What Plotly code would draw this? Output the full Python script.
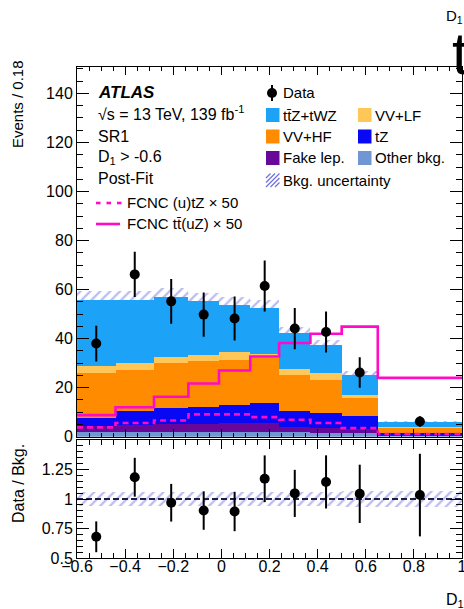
import numpy as np
import plotly.graph_objects as go

# ---------------- data ----------------
edges = [-0.6, -0.44, -0.28, -0.137, -0.01, 0.12, 0.24, 0.37, 0.50, 0.65, 1.0]

other_bkg = [1.8, 1.8, 1.8, 1.8, 1.8, 1.8, 1.8, 1.7, 1.6, 0.4]
fake_lep = [2.7, 2.8, 3.2, 3.4, 3.6, 3.8, 2.2, 1.8, 1.4, 0.4]
tz = [3.3, 5.7, 6.6, 6.9, 7.6, 8.1, 6.3, 6.1, 5.3, 0.8]
vv_hf = [18.2, 16.8, 18.3, 18.7, 18.2, 18.2, 14.8, 13.7, 7.4, 2.0]
vv_lf = [2.8, 2.8, 2.7, 2.7, 3.4, 2.0, 2.7, 2.8, 1.4, 0.5]
ttz_twz = [27.1, 26.0, 24.4, 21.7, 19.3, 18.6, 14.3, 11.2, 8.0, 1.9]
bkg_unc = [3.5, 3.5, 3.5, 3.3, 3.2, 3.1, 2.5, 2.3, 1.7, 0.4]

data = [38.0, 66.2, 55.2, 49.8, 48.2, 61.5, 44.1, 42.7, 26.2, 6.2]
data_err = [7.3, 9.2, 9.1, 9.0, 9.0, 10.4, 8.4, 8.4, 6.2, 2.1]

fcnc_tz = [3.8, 5.6, 6.6, 9.1, 9.1, 8.0, 6.9, 5.6, 3.5, 1.1]
fcnc_tt = [8.8, 12.0, 16.3, 21.7, 27.0, 32.7, 38.2, 42.0, 44.9, 24.0]

x_ticks = [-0.6, -0.4, -0.2, 0.0, 0.2, 0.4, 0.6, 0.8, 1.0]
x_ticktext = ["−0.6", "−0.4", "−0.2", "0", "0.2", "0.4", "0.6", "0.8", "1"]
ratio_ticks = [0.5, 0.75, 1.0, 1.25]
ratio_ticktext = ["0.5", "0.75", "1", "1.25"]

stack_names = ["Other bkg.", "Fake lep.", "tZ", "VV+HF", "VV+LF", "tt̄Z+tWZ"]
stack_values = [other_bkg, fake_lep, tz, vv_hf, vv_lf, ttz_twz]
stack_colors = ["rgb(112,150,212)", "rgb(104,8,152)", "rgb(8,8,245)",
                "rgb(255,140,0)", "rgb(255,198,88)", "rgb(28,162,246)"]

MAGENTA = "rgb(255,10,200)"
HATCH = "rgb(112,112,228)"
FONT = "Liberation Sans, Arial, Helvetica, sans-serif"

# ---------------- layout geometry (pixels) ----------------
W, H = 464, 609
L, R, T, B = 77, 2, 67, 51
PW, PH = W - L - R, H - T - B


def px(x):
    return (x - L) / PW


def py(y):
    return (H - B - y) / PH


e = np.array(edges)
centers = 0.5 * (e[:-1] + e[1:])
widths = np.diff(e)
total = np.sum(np.array(stack_values), axis=0)
unc = np.array(bkg_unc)
ratio = np.array(data) / total
ratio_err = np.array(data_err) / total
rel_unc = unc / total

fig = go.Figure()

hatch = dict(shape="/", fgcolor=HATCH, bgcolor="rgba(0,0,0,0)", size=7,
             solidity=0.32, fillmode="overlay")

# uncertainty band (drawn first so the stack covers its lower half)
fig.add_trace(go.Bar(x=centers, y=2 * unc, base=total - unc, width=widths,
                     marker=dict(color="rgba(0,0,0,0)", line=dict(width=0), pattern=hatch),
                     xaxis="x", yaxis="y", showlegend=False, hoverinfo="skip"))

# stacked backgrounds
cum = np.zeros(len(centers))
for name, vals, col in zip(stack_names, stack_values, stack_colors):
    v = np.array(vals)
    fig.add_trace(go.Bar(x=centers, y=v, base=cum.copy(), width=widths, name=name,
                         marker=dict(color=col, line=dict(width=0)),
                         xaxis="x", yaxis="y", showlegend=False))
    cum += v

# FCNC signal outlines
step_x = list(edges)
fig.add_trace(go.Scatter(x=step_x, y=list(fcnc_tz) + [fcnc_tz[-1]], mode="lines",
                         line=dict(color=MAGENTA, width=2.6, dash="6px,4px", shape="hv"),
                         xaxis="x", yaxis="y", showlegend=False))
fig.add_trace(go.Scatter(x=step_x, y=list(fcnc_tt) + [fcnc_tt[-1]], mode="lines",
                         line=dict(color=MAGENTA, width=2.6, shape="hv"),
                         xaxis="x", yaxis="y", showlegend=False))

# data
fig.add_trace(go.Scatter(x=centers, y=data, mode="markers",
                         marker=dict(color="black", size=10),
                         error_y=dict(type="data", array=data_err, color="black",
                                      thickness=2, width=0),
                         xaxis="x", yaxis="y", showlegend=False))

# ratio panel
fig.add_trace(go.Bar(x=centers, y=2 * rel_unc, base=1 - rel_unc, width=widths,
                     marker=dict(color="rgba(0,0,0,0)", line=dict(width=0), pattern=hatch),
                     xaxis="x2", yaxis="y2", showlegend=False, hoverinfo="skip"))
fig.add_trace(go.Scatter(x=[edges[0], edges[-1]], y=[1, 1], mode="lines",
                         line=dict(color="rgb(30,30,70)", width=2, dash="6px,3px"),
                         xaxis="x2", yaxis="y2", showlegend=False))
fig.add_trace(go.Scatter(x=centers, y=ratio, mode="markers",
                         marker=dict(color="black", size=10),
                         error_y=dict(type="data", array=ratio_err, color="black",
                                      thickness=2, width=0),
                         xaxis="x2", yaxis="y2", showlegend=False))

tickfont = dict(family=FONT, size=16, color="black")
axis_common = dict(showline=True, linecolor="black", linewidth=1, mirror="allticks",
                   ticks="inside", tickcolor="black", tickwidth=1,
                   showgrid=False, zeroline=False, tickfont=tickfont,
                   ticklabeloverflow="allow", automargin=False)

fig.update_layout(
    width=W, height=H, margin=dict(l=L, r=R, t=T, b=B, autoexpand=False),
    paper_bgcolor="white", plot_bgcolor="white",
    barmode="overlay", bargap=0,
    font=dict(family=FONT, color="black"),
    xaxis=dict(domain=[0, 1], anchor="y", range=[-0.6, 1.0], showticklabels=False,
               tickvals=x_ticks, ticklen=8,
               minor=dict(dtick=0.05, tick0=-0.6, ticklen=4, ticks="inside", tickcolor="black"),
               **axis_common),
    yaxis=dict(domain=[py(436.7), 1], anchor="x", range=[0, 150.8],
               tick0=0, dtick=20, ticklen=12,
               minor=dict(dtick=5, ticklen=6, ticks="inside", tickcolor="black"),
               **axis_common),
    xaxis2=dict(domain=[0, 1], anchor="y2", range=[-0.6, 1.0], matches="x",
                tickvals=x_ticks, ticktext=x_ticktext, ticklen=9,
                ticklabelstandoff=-6,
                minor=dict(dtick=0.05, tick0=-0.6, ticklen=5, ticks="inside", tickcolor="black"),
                **axis_common),
    yaxis2=dict(domain=[0, py(440)], anchor="x2", range=[0.5, 1.5],
                tickvals=ratio_ticks, ticktext=ratio_ticktext,
                ticklen=12,
                minor=dict(dtick=0.05, ticklen=6, ticks="inside", tickcolor="black"),
                **axis_common),
)

ann = []
shapes = []


def text(x, y, s, size=16, anchor="left", angle=0, yanchor="middle"):
    ann.append(dict(x=px(x), y=py(y), xref="paper", yref="paper", text=s,
                    showarrow=False, xanchor=anchor, yanchor=yanchor, textangle=angle,
                    font=dict(family=FONT, size=size, color="black")))


# axis titles
text(18, 104, "Events / 0.18", size=15, anchor="center", angle=-90)
text(18, 484, "Data / Bkg.", size=16, anchor="center", angle=-90)
text(444, 600, "D<sub>1</sub>", size=16)
text(444, 17, "D<sub>1</sub>", size=15)
text(450, 54, "t", size=60)

# labels
text(96, 92, "<b><i>ATLAS</i></b>", size=17)
text(96, 113, "√s = 13 TeV, 139 fb<sup>-1</sup>", size=16)
text(96, 136, "SR1", size=16)
text(96, 157, "D<sub>1</sub> > -0.6", size=16)
text(96, 178, "Post-Fit", size=16)
text(125, 203, "FCNC (u)tZ × 50", size=15)
text(125, 224, "FCNC tt̄(uZ) × 50", size=15)

# FCNC legend lines
for x0 in [96, 106.5, 117]:
    shapes.append(dict(type="line", xref="paper", yref="paper",
                       x0=px(x0), x1=px(x0 + 4.5), y0=py(203), y1=py(203),
                       line=dict(color=MAGENTA, width=2.6)))
shapes.append(dict(type="line", xref="paper", yref="paper",
                   x0=px(96), x1=px(120), y0=py(224), y1=py(224),
                   line=dict(color=MAGENTA, width=2.6)))

# background legend
shapes.append(dict(type="circle", xref="paper", yref="paper",
                   x0=px(267), x1=px(277), y0=py(98), y1=py(88),
                   fillcolor="black", line=dict(width=0)))
shapes.append(dict(type="line", xref="paper", yref="paper",
                   x0=px(272), x1=px(272), y0=py(85), y1=py(101),
                   line=dict(color="black", width=2)))
text(281, 93, "Data", size=15)

legend_items = [
    (266, 115, stack_colors[5], stack_names[5]),
    (358, 115, stack_colors[4], stack_names[4]),
    (266, 136.5, stack_colors[3], stack_names[3]),
    (358, 136.5, stack_colors[2], stack_names[2]),
    (266, 158, stack_colors[1], stack_names[1]),
    (358, 158, stack_colors[0], stack_names[0]),
]
for x0, yc, col, name in legend_items:
    shapes.append(dict(type="rect", xref="paper", yref="paper",
                       x0=px(x0), x1=px(x0 + 13.5), y0=py(yc + 7), y1=py(yc - 7),
                       fillcolor=col, line=dict(width=0)))
    text(x0 + 15, yc, name, size=15)

# hatched legend swatch
s = 13.5
xb, yb = 266, 187
for c in [-9, -4.5, 0, 4.5, 9]:
    if c >= 0:
        u0, v0, u1, v1 = c, 0, s, s - c
    else:
        u0, v0, u1, v1 = 0, -c, s + c, s
    shapes.append(dict(type="line", xref="paper", yref="paper",
                       x0=px(xb + u0), y0=py(yb - v0), x1=px(xb + u1), y1=py(yb - v1),
                       line=dict(color=HATCH, width=1.3)))
text(281, 180, "Bkg. uncertainty", size=15)

fig.update_layout(annotations=ann, shapes=shapes)
fig.write_html("out.html")
